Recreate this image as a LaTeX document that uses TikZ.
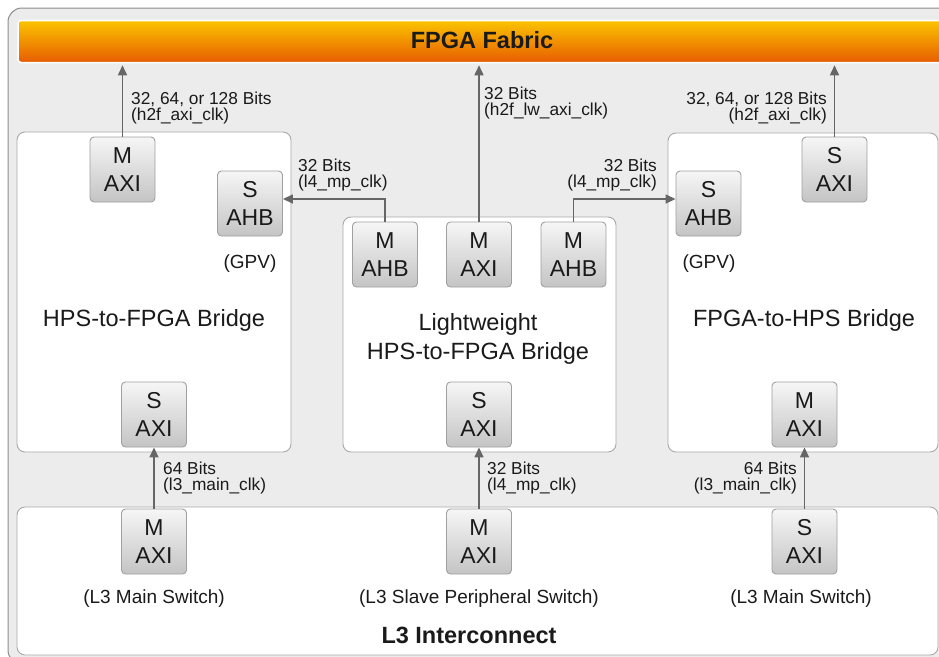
\documentclass[tikz,border=0pt]{standalone}
\usepackage{fontspec}
\setmainfont{Liberation Sans}
\usetikzlibrary{arrows.meta}
\definecolor{framegray}{HTML}{8C8C8C}
\definecolor{bggray}{HTML}{ECECEC}
\definecolor{panelline}{HTML}{A8A8A8}
\definecolor{blockline}{HTML}{A0A0A0}
\definecolor{blocktop}{HTML}{F6F6F6}
\definecolor{blockbot}{HTML}{C4C4C4}
\definecolor{fabtop}{HTML}{FAC400}
\definecolor{fabbot}{HTML}{E85C00}
\definecolor{arrgray}{HTML}{666666}
\definecolor{txt}{HTML}{1A1A1A}
\tikzset{
  panel/.style={draw=panelline, fill=white, rounded corners=8pt, line width=0.9pt, inner sep=0pt},
  block/.style={draw=blockline, line width=0.9pt, rounded corners=4pt, top color=blocktop, bottom color=blockbot,
    minimum width=65pt, minimum height=65pt, inner sep=0pt, align=center, text=txt,
    font=\fontsize{23}{28.5}\selectfont},
  big/.style={text=txt, font=\fontsize{23.5}{29}\selectfont, align=center, inner sep=0pt},
  paren/.style={text=txt, font=\fontsize{19}{22}\selectfont, inner sep=0pt},
  bold/.style={text=txt, font=\fontsize{23.5}{26}\bfseries\selectfont, inner sep=0pt},
  lab/.style={text=txt, font=\fontsize{17.3}{16}\selectfont, inner sep=0pt},
  arr/.style={draw=arrgray, line width=1.5pt, -{Triangle[length=10pt,width=9pt]}},
}
\begin{document}
\begin{tikzpicture}[x=1pt,y=-1pt]
\useasboundingbox (0,0) rectangle (939,656);
\clip (0,0) rectangle (939,656);
\fill[white] (0,0) rectangle (939,656);
% outer frame
\draw[framegray, fill=bggray, line width=1pt, rounded corners=14pt] (8,8) rectangle (970,664);
% FPGA fabric bar
\node[draw=white, line width=1.5pt, rounded corners=3pt, top color=fabtop, bottom color=fabbot,
      minimum width=940pt, minimum height=42pt, inner sep=0pt] (fab) at (488,41.5) {};
\node[bold] (fabtxt) at (482,40) {FPGA Fabric};
% panels
\node[panel, minimum width=274pt, minimum height=320pt] (hps) at (154,292) {};
\node[panel, minimum width=273pt, minimum height=235pt] (lw) at (479.5,334.5) {};
\node[panel, minimum width=270pt, minimum height=319pt] (f2h) at (803,292.5) {};
\node[panel, minimum width=921pt, minimum height=148pt] (l3) at (477.5,581) {};
% HPS-to-FPGA bridge
\node[block] (hmaxi) at (122.5,169.5) {M\\AXI};
\node[block] (hsahb) at (250,203.5) {S\\AHB};
\node[paren] (hgpv) at (250,263.5) {(GPV)};
\node[big] (htxt) at (154,320) {HPS-to-FPGA Bridge};
\node[block] (hsaxi) at (154,414.5) {S\\AXI};
% Lightweight bridge
\node[block] (lwl) at (385,254.5) {M\\AHB};
\node[block] (lwm) at (479,254.5) {M\\AXI};
\node[block] (lwr) at (573.5,254.5) {M\\AHB};
\node[big] (lwtxt) at (478,338.5) {Lightweight\\HPS-to-FPGA Bridge};
\node[block] (lwsaxi) at (479,414.5) {S\\AXI};
% FPGA-to-HPS bridge
\node[block] (fsahb) at (708.5,203.5) {S\\AHB};
\node[paren] (fgpv) at (709,263.5) {(GPV)};
\node[block] (fsaxi) at (834.5,169.5) {S\\AXI};
\node[big] (ftxt) at (804,320) {FPGA-to-HPS Bridge};
\node[block] (fmaxi) at (804.5,414.5) {M\\AXI};
% L3 interconnect
\node[block] (l3a) at (154,541.5) {M\\AXI};
\node[block] (l3b) at (479,541.5) {M\\AXI};
\node[block] (l3c) at (804.5,541.5) {S\\AXI};
\node[paren] (l3at) at (154,598.5) {(L3 Main Switch)};
\node[paren] (l3bt) at (479,598.5) {(L3 Slave Peripheral Switch)};
\node[paren] (l3ct) at (801,598.5) {(L3 Main Switch)};
\node[bold] (l3txt) at (469,635) {L3 Interconnect};
% connectors
\draw[arr, shorten >=2pt] (hmaxi.north) -- (hmaxi.north |- fab.south);
\draw[arr, shorten >=2pt] (lwm.north) -- (lwm.north |- fab.south);
\draw[arr, shorten >=2pt] (fsaxi.north) -- (fsaxi.north |- fab.south);
\draw[arr] (lwl.north) |- ([yshift=4.5pt]hsahb.east);
\draw[arr] (lwr.north) |- ([yshift=4.5pt]fsahb.west);
\draw[arr] (l3a.north) -- (hsaxi.south);
\draw[arr] (l3b.north) -- (lwsaxi.south);
\draw[arr] (l3c.north) -- (fmaxi.south);
% labels
\node[lab, anchor=west, align=left] (la1) at (131,108) {32, 64, or 128 Bits\\(h2f\_axi\_clk)};
\node[lab, anchor=west, align=left] (la2) at (484,103.5) {32 Bits\\(h2f\_lw\_axi\_clk)};
\node[lab, anchor=east, align=right] (la3) at (827,108) {32, 64, or 128 Bits\\(h2f\_axi\_clk)};
\node[lab, anchor=west, align=left] (la4) at (298,175) {32 Bits\\(l4\_mp\_clk)};
\node[lab, anchor=east, align=right] (la5) at (657,175) {32 Bits\\(l4\_mp\_clk)};
\node[lab, anchor=west, align=left] (la6) at (163,478) {64 Bits\\(l3\_main\_clk)};
\node[lab, anchor=west, align=left] (la7) at (487,478) {32 Bits\\(l4\_mp\_clk)};
\node[lab, anchor=east, align=right] (la8) at (797,478) {64 Bits\\(l3\_main\_clk)};
\end{tikzpicture}
\end{document}
